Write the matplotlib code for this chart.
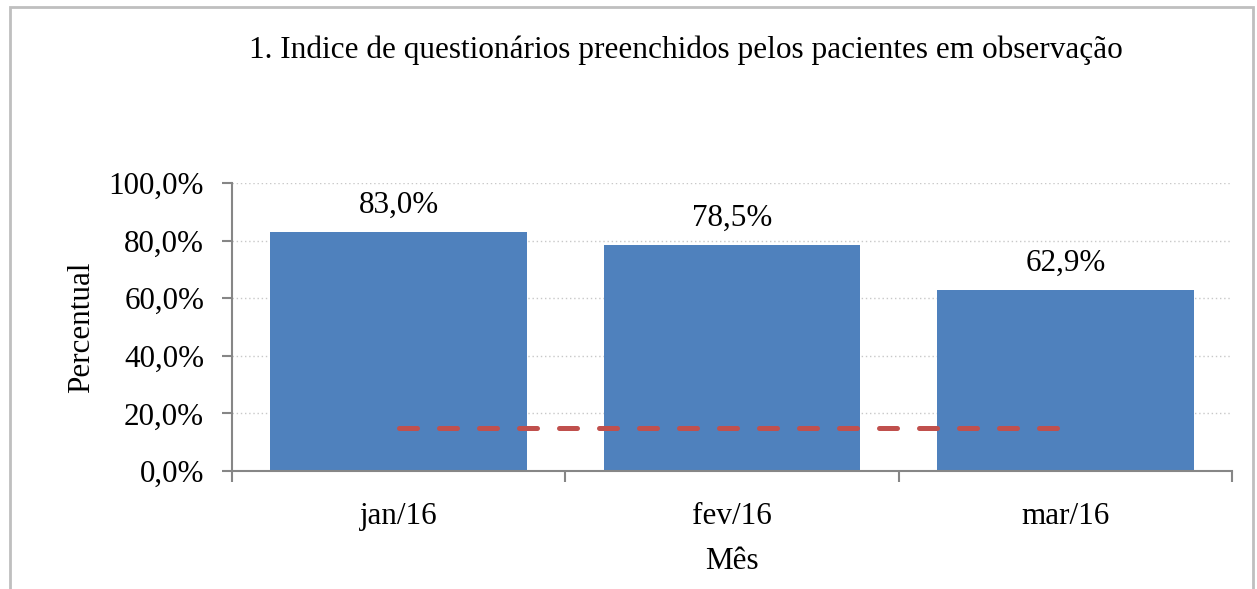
import matplotlib.pyplot as plt
from matplotlib.patches import Rectangle
from matplotlib.ticker import FixedLocator

meses = ['jan/16', 'fev/16', 'mar/16']
percentual = [83.0, 78.5, 62.9]
rotulos = ['83,0%', '78,5%', '62,9%']
meta = [15.0, 15.0, 15.0]
yticks = [0, 20, 40, 60, 80, 100]

plt.rcParams['font.family'] = ['Liberation Serif', 'DejaVu Serif']

fig = plt.figure(figsize=(12.57, 5.89), dpi=100)
ax = fig.add_axes([232/1257, 1 - 471/589, 1000/1257, 288/589])

x = list(range(len(meses)))
ax.bar(x, percentual, width=0.77, color='#4F81BD', zorder=2)
ax.plot(x, meta, color='#C0504D', lw=3.6, dashes=(3.6, 4.4),
        dash_capstyle='round', zorder=3)

for xi, v, lab in zip(x, percentual, rotulos):
    ax.annotate(lab, (xi, v), xytext=(0, 9), textcoords='offset points',
                ha='center', va='bottom', fontsize=22.4)

ax.set_xlim(-0.5, 2.5)
ax.set_ylim(0, 100)
ax.set_yticks(yticks)
ax.set_yticklabels([f'{t:.1f}'.replace('.', ',') + '%' for t in yticks], fontsize=22.4)
ax.set_xticks(x)
ax.set_xticklabels(meses, fontsize=22.4)
ax.xaxis.set_minor_locator(FixedLocator([-0.5, 0.5, 1.5, 2.5]))
ax.tick_params(axis='x', which='major', length=0, pad=22)
ax.tick_params(axis='x', which='minor', length=8, color='#868686', width=1.5)
ax.tick_params(axis='y', length=7, color='#868686', width=1.5, pad=13)

ax.grid(axis='y', color='#C8C8C8', linestyle=(0, (1, 2)), lw=1, zorder=0)
for s in ['top', 'right']:
    ax.spines[s].set_visible(False)
for s in ['left', 'bottom']:
    ax.spines[s].set_color('#868686')
    ax.spines[s].set_linewidth(1.5)

ax.set_ylabel('Percentual', fontsize=22.4, labelpad=9)
ax.set_xlabel('Mês', fontsize=22.4, labelpad=12)

fig.text(686/1257, 1 - 50/589, '1. Indice de questionários preenchidos pelos pacientes em observação',
         ha='center', va='center', fontsize=22.5)

fig.patches.append(Rectangle((10/1257, -0.1), 1243/1257, 1.1 - 7/589,
                             transform=fig.transFigure, fill=False,
                             edgecolor='#BFBFBF', lw=2))

fig.savefig('out.png', dpi=100)
